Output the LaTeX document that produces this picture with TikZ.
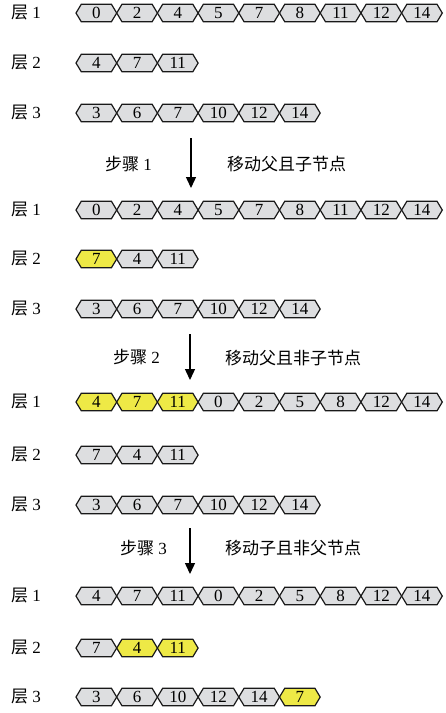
\documentclass[tikz,border=0pt]{standalone}
\usepackage{fontspec}
\setmainfont{Liberation Serif}
\newfontfamily\cjk{Noto Sans CJK SC}
\usetikzlibrary{shapes.symbols,arrows.meta}
\definecolor{cellgray}{RGB}{221,222,224}
\definecolor{hlyellow}{RGB}{238,233,70}
\tikzset{
  cell/.style={signal, signal to=west and east, signal pointer angle=118,
    draw=black!90, line width=1.2pt, fill=cellgray, minimum width=40.7pt,
    minimum height=17.5pt, inner sep=0pt, outer sep=0pt,
    font=\fontsize{17}{19}\selectfont},
  hl/.style={cell, fill=hlyellow},
  lvl/.style={anchor=west, inner sep=0pt, font=\fontsize{17}{19}\selectfont},
  stepnote/.style={inner sep=0pt, font=\fontsize{17}{19}\selectfont},
}
\begin{document}
\begin{tikzpicture}[x=1pt,y=-1pt,>={Triangle[length=11pt,width=10pt]}]
    \useasboundingbox (0,0) rectangle (446,713);

    % level labels
    \foreach \y/\n [count=\k] in {13/1,63/2,113/3,210/1,259/2,309/3,402/1,455/2,505/3,596/1,648/2,697/3}
        {\node[lvl] (lab\k) at (11,\y) {{\cjk 层} \n};};

    % block 1
    \foreach \v/\s [count=\i] in {0/cell,2/cell,4/cell,5/cell,7/cell,8/cell,11/cell,12/cell,14/cell}
        {\node[\s] (a1-\i) at ({76+40.7*(\i-0.5)},13) {\v};};
    \foreach \v/\s [count=\i] in {4/cell,7/cell,11/cell}
        {\node[\s] (a2-\i) at ({76+40.7*(\i-0.5)},63) {\v};};
    \foreach \v/\s [count=\i] in {3/cell,6/cell,7/cell,10/cell,12/cell,14/cell}
        {\node[\s] (a3-\i) at ({76+40.7*(\i-0.5)},113) {\v};};

    % block 2
    \foreach \v/\s [count=\i] in {0/cell,2/cell,4/cell,5/cell,7/cell,8/cell,11/cell,12/cell,14/cell}
        {\node[\s] (b1-\i) at ({76+40.7*(\i-0.5)},210) {\v};};
    \foreach \v/\s [count=\i] in {7/hl,4/cell,11/cell}
        {\node[\s] (b2-\i) at ({76+40.7*(\i-0.5)},259) {\v};};
    \foreach \v/\s [count=\i] in {3/cell,6/cell,7/cell,10/cell,12/cell,14/cell}
        {\node[\s] (b3-\i) at ({76+40.7*(\i-0.5)},309) {\v};};

    % block 3
    \foreach \v/\s [count=\i] in {4/hl,7/hl,11/hl,0/cell,2/cell,5/cell,8/cell,12/cell,14/cell}
        {\node[\s] (c1-\i) at ({76+40.7*(\i-0.5)},402) {\v};};
    \foreach \v/\s [count=\i] in {7/cell,4/cell,11/cell}
        {\node[\s] (c2-\i) at ({76+40.7*(\i-0.5)},455) {\v};};
    \foreach \v/\s [count=\i] in {3/cell,6/cell,7/cell,10/cell,12/cell,14/cell}
        {\node[\s] (c3-\i) at ({76+40.7*(\i-0.5)},505) {\v};};

    % block 4
    \foreach \v/\s [count=\i] in {4/cell,7/cell,11/cell,0/cell,2/cell,5/cell,8/cell,12/cell,14/cell}
        {\node[\s] (d1-\i) at ({76+40.7*(\i-0.5)},596) {\v};};
    \foreach \v/\s [count=\i] in {7/cell,4/hl,11/hl}
        {\node[\s] (d2-\i) at ({76+40.7*(\i-0.5)},648) {\v};};
    \foreach \v/\s [count=\i] in {3/cell,6/cell,10/cell,12/cell,14/cell,7/hl}
        {\node[\s] (d3-\i) at ({76+40.7*(\i-0.5)},697) {\v};};

    % steps
    \coordinate (s1a) at (191,138); \coordinate (s1b) at (191,188);
    \coordinate (s2a) at (190,334); \coordinate (s2b) at (190,380);
    \coordinate (s3a) at (190,528); \coordinate (s3b) at (190,574);
    \draw[->,line width=1.4pt] (s1a) -- (s1b);
    \draw[->,line width=1.4pt] (s2a) -- (s2b);
    \draw[->,line width=1.4pt] (s3a) -- (s3b);

    \node[stepnote,anchor=east] (st1) at (152,164) {{\cjk 步骤} 1};
    \node[stepnote,anchor=east] (st2) at (160,357) {{\cjk 步骤} 2};
    \node[stepnote,anchor=east] (st3) at (167,548) {{\cjk 步骤} 3};
    \node[stepnote,anchor=west] (mv1) at (227,164) {\cjk 移动父且子节点};
    \node[stepnote,anchor=west] (mv2) at (225,358) {\cjk 移动父且非子节点};
    \node[stepnote,anchor=west] (mv3) at (225,548) {\cjk 移动子且非父节点};
\end{tikzpicture}
\end{document}
